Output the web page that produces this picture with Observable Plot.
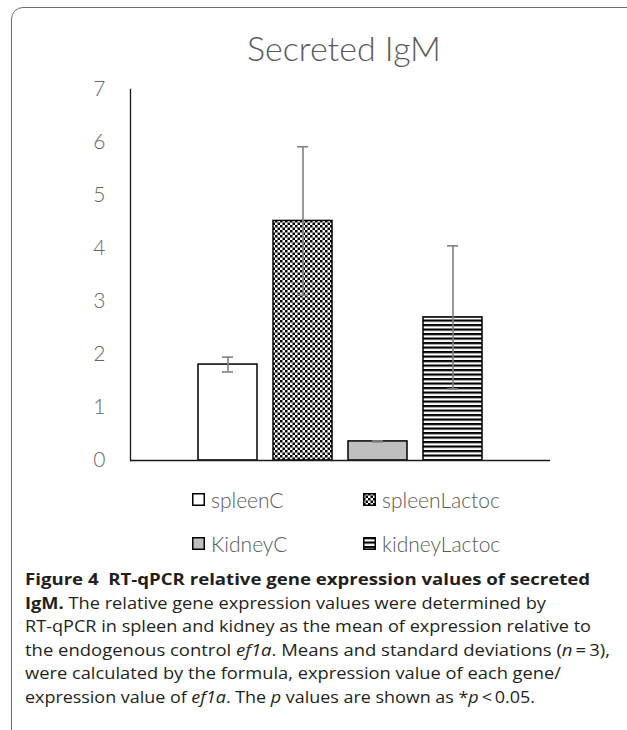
<!DOCTYPE html>
<html>
<head>
<meta charset="utf-8">
<script src="https://cdn.jsdelivr.net/npm/d3@7"></script>
<script src="https://cdn.jsdelivr.net/npm/@observablehq/plot@0.6"></script>
<style>
  html, body { margin: 0; padding: 0; background: #fff; overflow: hidden; }
  #wrap { position: relative; width: 627px; height: 730px; overflow: hidden; background: #fff; }
  #box { position: absolute; left: 11px; top: 7px; width: 630px; height: 740px; border: 1.3px solid #6e6e6e; border-radius: 12px; box-sizing: border-box; }
  #title { position: absolute; left: 0; width: 688px; top: 28px; line-height: 1.2; text-align: center; font-family: Lato, "Open Sans", sans-serif; font-weight: 300; font-size: 34px; color: #595959; }
  #chart { position: absolute; left: 0; top: 0; }
  #legend { position: absolute; left: 192px; top: 486px; display: grid; grid-template-columns: 171px 171px; row-gap: 18px; font-family: Lato, "Open Sans", sans-serif; font-weight: 300; font-size: 21px; color: #595959; }
  .item { display: flex; align-items: center; height: 26px; white-space: nowrap; }
  .item svg { margin-right: 6px; }
  #caption { position: absolute; left: 25px; top: 568px; width: 800px; font-family: "Open Sans", "Noto Sans", sans-serif; font-size: 16px; color: #231f20; }
  #caption div { height: 23.6px; line-height: 23.6px; white-space: nowrap; transform-origin: 0 50%; width: max-content; }
  #caption b { font-weight: 700; }
</style>
</head>
<body>
<svg width="0" height="0" style="position:absolute">
  <defs>
    <pattern id="checker" width="5" height="5" patternUnits="userSpaceOnUse">
      <rect width="5" height="5" fill="#fff"/>
      <rect x="0" y="0" width="2.5" height="2.5" fill="#000"/>
      <rect x="2.5" y="2.5" width="2.5" height="2.5" fill="#000"/>
    </pattern>
    <pattern id="hstripe" width="4" height="4.5" patternUnits="userSpaceOnUse">
      <rect width="4" height="4.5" fill="#fff"/>
      <rect x="0" y="0" width="4" height="2.2" fill="#000"/>
    </pattern>
  </defs>
</svg>
<div id="wrap">
  <div id="box"></div>
  <div id="chart"></div>
  <div id="title">Secreted IgM</div>
  <div id="legend"></div>
  <div id="caption">
    <div><b>Figure 4&nbsp;&nbsp;RT-qPCR relative gene expression values of secreted</b></div>
    <div><b>IgM.</b> The relative gene expression values were determined by</div>
    <div>RT-qPCR in spleen and kidney as the mean of expression relative to</div>
    <div>the endogenous control <i>ef1a</i>. Means and standard deviations (<i>n</i>&thinsp;=&thinsp;3),</div>
    <div>were calculated by the formula, expression value of each gene/</div>
    <div>expression value of <i>ef1a</i>. The <i>p</i> values are shown as *<i>p</i>&thinsp;&lt;&thinsp;0.05.</div>
  </div>
</div>
<script>
// ---- data ----
const series = ["spleenC", "spleenLactoc", "KidneyC", "kidneyLactoc"];
const means = [1.81, 4.52, 0.36, 2.70];
const sds = [0.14, 1.40, 0.01, 1.35];
const yTicks = [0, 1, 2, 3, 4, 5, 6, 7];

// ---- styles ----
const fills = ["#ffffff", "url(#checker)", "#bfbfbf", "url(#hstripe)"];

const rows = series.map((s, i) => ({s, m: means[i], lo: means[i] - sds[i], hi: means[i] + sds[i]}));

const chart = Plot.plot({
  width: 627,
  height: 480,
  marginTop: 89,
  marginBottom: 20,
  marginLeft: 130,
  marginRight: 77,
  x: {domain: series, paddingInner: 0.21, paddingOuter: 0.87, axis: null},
  y: {domain: [0, 7]},
  color: {domain: series, range: fills},
  marks: [
    Plot.barY(rows, {x: "s", y: "m", fill: "s", stroke: "#000", strokeWidth: 1.5}),
    Plot.ruleX(rows, {x: "s", y1: "lo", y2: "hi", stroke: "#808080", strokeWidth: 1.6}),
    Plot.tickY(rows, {x: "s", y: "lo", stroke: "#808080", strokeWidth: 1.6, insetLeft: 24, insetRight: 24}),
    Plot.tickY(rows, {x: "s", y: "hi", stroke: "#808080", strokeWidth: 1.6, insetLeft: 24, insetRight: 24}),
    Plot.axisY({ticks: yTicks, tickSize: 0, tickPadding: 25, fontSize: 21, fontWeight: 300, fill: "#666", fontFamily: "Lato, 'Open Sans', sans-serif", tickFormat: d3.format("d"), label: null}),
    Plot.frame({anchor: "left", stroke: "#1a1a1a", strokeWidth: 1.3}),
    Plot.ruleY([0], {stroke: "#1a1a1a", strokeWidth: 1.5})
  ]
});
chart.style.overflow = "visible";
document.getElementById("chart").appendChild(chart);

// ---- legend ----
const leg = document.getElementById("legend");
series.forEach((s, i) => {
  const item = document.createElement("div");
  item.className = "item";
  item.innerHTML = `<svg width="13" height="13"><rect x="0.75" y="0.75" width="11.5" height="11.5" fill="${fills[i]}" stroke="#000" stroke-width="1.5"/></svg><span>${s}</span>`;
  leg.appendChild(item);
});

// ---- fit each caption line to its width in the reference ----
const lineWidths = [565, 521, 566, 585, 536, 510];
[...document.getElementById("caption").children].forEach((el, i) => {
  const w = el.getBoundingClientRect().width;
  el.style.transform = `scaleX(${lineWidths[i] / w})`;
});
</script>
</body>
</html>
